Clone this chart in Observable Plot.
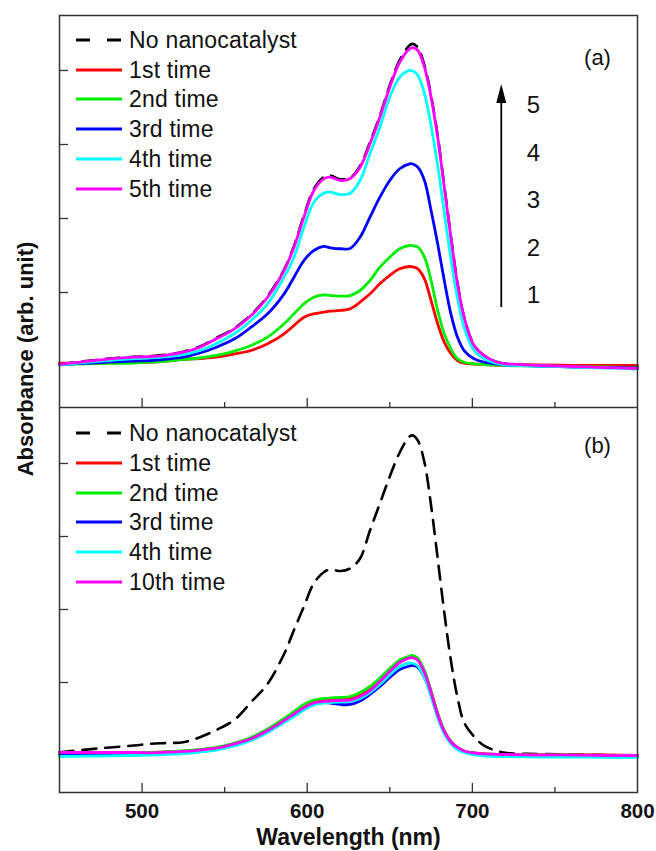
<!DOCTYPE html>
<html><head><meta charset="utf-8">
<script src="https://cdn.jsdelivr.net/npm/d3@7"></script>
<script src="https://cdn.jsdelivr.net/npm/@observablehq/plot@0.6"></script>
<style>
body{margin:0;background:#fff;}
#chart{position:relative;width:656px;height:851px;font-family:"Liberation Sans",Arial,sans-serif;overflow:hidden;}
#chart svg.plotsvg{position:absolute;left:0;}
.lg{position:absolute;font-size:23px;letter-spacing:0.2px;line-height:1;white-space:nowrap;color:#111;}
</style></head><body><div id="chart"></div>
<script>
// ---------- data ----------
const wavelength = [450,475,495,505,515,525,535,545,556,566,576,586,592,598,604,610,614,620,626,632,638,644,650,656,662,664,667,671,675,679,683,687,691,695,701,707,715,721,740,760,780,800];

// panel (a)
const noCatA = [0.03,0.095,0.13,0.14,0.16,0.2,0.27,0.385,0.52,0.70,0.95,1.31,1.63,2.04,2.40,2.56,2.58,2.53,2.55,2.71,3.03,3.39,3.80,4.14,4.34,4.36,4.31,4.07,3.66,3.12,2.44,1.76,1.13,0.67,0.29,0.15,0.06,0.035,0.015,0.005,-0.005,-0.015];
const time1A = [0.045,0.047,0.054,0.058,0.074,0.095,0.108,0.126,0.169,0.216,0.307,0.442,0.554,0.666,0.712,0.734,0.747,0.757,0.78,0.869,0.982,1.118,1.23,1.32,1.351,1.345,1.32,1.185,0.892,0.577,0.328,0.172,0.081,0.045,0.034,0.027,0.02,0.02,0.02,0.016,0.014,0.014];
const time2A = [0.027,0.041,0.047,0.058,0.074,0.095,0.115,0.149,0.209,0.284,0.396,0.577,0.712,0.847,0.936,0.969,0.959,0.95,0.959,1.027,1.162,1.342,1.477,1.591,1.635,1.631,1.612,1.477,1.162,0.757,0.442,0.239,0.104,0.058,0.036,0.027,0.02,0.014,0.007,0,-0.007,-0.014];
const time3A = [0.027,0.054,0.074,0.081,0.101,0.126,0.182,0.261,0.374,0.531,0.712,0.982,1.207,1.432,1.568,1.622,1.604,1.591,1.595,1.747,2.018,2.288,2.514,2.672,2.739,2.736,2.693,2.514,2.108,1.658,1.162,0.712,0.396,0.216,0.104,0.058,0.034,0.02,0.007,-0.007,-0.014,-0.02];
const time4A = [0.02,0.074,0.108,0.118,0.135,0.162,0.216,0.311,0.446,0.622,0.847,1.207,1.477,1.882,2.22,2.342,2.355,2.324,2.342,2.514,2.874,3.234,3.639,3.909,4.0,3.993,3.932,3.689,3.257,2.716,2.081,1.459,0.919,0.527,0.216,0.108,0.041,0.02,0.007,-0.007,-0.02,-0.034];
const time5A = [0.027,0.09,0.126,0.135,0.155,0.193,0.261,0.374,0.509,0.689,0.936,1.297,1.612,2.018,2.378,2.536,2.558,2.514,2.541,2.693,3.009,3.369,3.774,4.112,4.293,4.31,4.27,4.045,3.639,3.099,2.423,1.747,1.118,0.666,0.284,0.149,0.058,0.036,0.014,0.0,-0.014,-0.027];

// panel (b)
const noCatB = [0.045,0.1,0.137,0.16,0.171,0.182,0.25,0.35,0.49,0.73,0.98,1.39,1.72,2.04,2.36,2.51,2.548,2.527,2.562,2.699,3.082,3.452,3.822,4.151,4.37,4.384,4.315,4.014,3.425,2.699,1.959,1.301,0.795,0.452,0.26,0.137,0.062,0.034,0.021,0.014,0.007,0];
const time1B = [0.034,0.034,0.034,0.041,0.048,0.058,0.075,0.103,0.164,0.233,0.349,0.486,0.578,0.671,0.733,0.753,0.76,0.767,0.774,0.822,0.904,1.027,1.164,1.288,1.349,1.352,1.315,1.151,0.877,0.575,0.336,0.192,0.11,0.062,0.034,0.021,0.014,0.014,0.007,0.007,0.007,0];
const time2B = [0.027,0.027,0.034,0.041,0.048,0.062,0.082,0.11,0.171,0.247,0.363,0.507,0.603,0.699,0.76,0.781,0.788,0.795,0.808,0.863,0.945,1.062,1.192,1.308,1.363,1.37,1.329,1.164,0.877,0.575,0.336,0.185,0.103,0.062,0.034,0.021,0.014,0.014,0.007,0.007,0,0];
const time3B = [0,0.007,0.014,0.021,0.027,0.041,0.062,0.089,0.144,0.219,0.329,0.466,0.555,0.644,0.705,0.726,0.719,0.699,0.699,0.747,0.836,0.945,1.068,1.178,1.226,1.233,1.205,1.068,0.822,0.534,0.315,0.171,0.089,0.048,0.021,0.007,0,0,-0.007,-0.007,-0.014,-0.014];
const time4B = [-0.014,-0.007,0,0.007,0.014,0.027,0.048,0.075,0.13,0.205,0.315,0.452,0.534,0.623,0.692,0.719,0.726,0.733,0.74,0.781,0.863,0.973,1.103,1.219,1.267,1.264,1.226,1.068,0.808,0.521,0.301,0.164,0.082,0.041,0.007,-0.007,-0.014,-0.014,-0.021,-0.021,-0.027,-0.027];
const time10B = [0.041,0.041,0.041,0.037,0.045,0.055,0.075,0.1,0.16,0.229,0.342,0.479,0.568,0.658,0.719,0.74,0.747,0.753,0.76,0.808,0.89,1.014,1.151,1.274,1.336,1.338,1.301,1.137,0.863,0.562,0.329,0.185,0.11,0.062,0.034,0.021,0.014,0.014,0.007,0.007,0,0];

const namesA = ["No nanocatalyst","1st time","2nd time","3rd time","4th time","5th time"];
const namesB = ["No nanocatalyst","1st time","2nd time","3rd time","4th time","10th time"];
const colors = ["#000000","#ff0000","#00ee00","#0000ff","#00ffff","#ff00ff"];
const yTicks = [1,2,3,4];
const xMajor = [500,600,700];
const xMinor = [550,650,750];
const xLabels = [500,600,700,800];
const cycleLabels = ["5","4","3","2","1"];
const cycleLabelY = [3.527,2.885,2.243,1.601,0.959];
const arrowAnn = {x: 717.5, y1: 0.797, y2: 3.56, labelX: 737};

// ---------- helpers ----------
const FONT = "'Liberation Sans', Arial, sans-serif";
function rows(vals){ return wavelength.map((w,i)=>({w, v: vals[i]})); }
function lineMarks(seriesVals){
  return seriesVals.map((vals,i)=>Plot.line(rows(vals), {
    x:"w", y:"v", stroke: colors[i], strokeWidth: i===0 ? 2.6 : 2.8,
    strokeDasharray: i===0 ? "14,9" : null, curve:"catmull-rom"
  }));
}
function tickMarks(){
  return [
    Plot.axisY({ticks: yTicks, tickSize: -9, tickFormat: () => "", label: null, stroke:"#333", strokeWidth:1.3}),
    Plot.axisX({ticks: xMajor, tickSize: -9, tickFormat: () => "", label: null, stroke:"#333", strokeWidth:1.3}),
    Plot.axisX({ticks: xMinor, tickSize: -5, tickFormat: () => "", label: null, stroke:"#333", strokeWidth:1.3})
  ];
}

const chart = document.getElementById("chart");

// ---------- bottom panel (b) ----------
const plotB = Plot.plot({
  width: 656, height: 445,
  marginLeft: 59, marginRight: 19, marginTop: 1, marginBottom: 59,
  style: {fontFamily: FONT, background: "white"},
  x: {domain: [450, 800]},
  y: {domain: [-0.507, 4.767]},
  marks: [
    ...lineMarks([noCatB, time1B, time2B, time3B, time4B, time10B]),
    ...tickMarks(),
    Plot.axisX({ticks: xLabels, tickSize: 0, tickPadding: 11, label: null, fontSize: 20.5, fontWeight: "bold", fill:"#111"}),
    Plot.text(["Wavelength (nm)"], {text: d => d, frameAnchor: "bottom", dy: 45, fontSize: 23, fontWeight: "bold", lineAnchor: "middle", fill:"#111"}),
    Plot.text(["(b)"], {text: d => d, frameAnchor: "top-right", dx: -40, dy: 38, fontSize: 22, textAnchor: "middle", lineAnchor: "middle", fill:"#111"}),
    Plot.frame({stroke: "#333", strokeWidth: 1.5})
  ]
});
plotB.classList.add("plotsvg");
plotB.style.top = "406px";
chart.appendChild(plotB);

// ---------- top panel (a) ----------
const plotA = Plot.plot({
  width: 656, height: 408,
  marginLeft: 59, marginRight: 19, marginTop: 15, marginBottom: 1,
  style: {fontFamily: FONT, background: "white"},
  x: {domain: [450, 800]},
  y: {domain: [-0.554, 4.743]},
  marks: [
    ...lineMarks([noCatA, time1A, time2A, time3A, time4A, time5A]),
    ...tickMarks(),
    Plot.ruleX([arrowAnn], {x: "x", y1: "y1", y2: "y2", stroke: "#000", strokeWidth: 1.8}),
    Plot.vector([arrowAnn], {x: "x", y: "y2", length: 19, r: 5, rotate: 0, anchor: "start", shape: "spike", fill: "#000", stroke: "none"}),
    Plot.text(cycleLabels, {text: d => d, x: () => arrowAnn.labelX, y: (d,i) => cycleLabelY[i], fontSize: 24, textAnchor: "middle", lineAnchor: "middle", fill:"#111"}),
    Plot.text(["(a)"], {text: d => d, frameAnchor: "top-right", dx: -40, dy: 42, fontSize: 22, textAnchor: "middle", lineAnchor: "middle", fill:"#111"}),
    Plot.frame({stroke: "#333", strokeWidth: 1.5})
  ]
});
plotA.classList.add("plotsvg");
plotA.style.top = "0px";
chart.appendChild(plotA);

// ---------- legends ----------
function legend(names, top){
  names.forEach((name, i) => {
    const yc = top + i * 29.7;
    const ns = "http://www.w3.org/2000/svg";
    const s = document.createElementNS(ns, "svg");
    s.setAttribute("width", 48); s.setAttribute("height", 8);
    s.style.position = "absolute"; s.style.left = "76px"; s.style.top = (yc - 4) + "px";
    const l = document.createElementNS(ns, "line");
    l.setAttribute("x1", 0); l.setAttribute("x2", 46); l.setAttribute("y1", 4); l.setAttribute("y2", 4);
    l.setAttribute("stroke", colors[i]); l.setAttribute("stroke-width", 2.8);
    if (i === 0) l.setAttribute("stroke-dasharray", "14,17");
    s.appendChild(l);
    chart.appendChild(s);
    const t = document.createElement("div");
    t.className = "lg"; t.textContent = name;
    t.style.left = "129px"; t.style.top = yc + "px"; t.style.transform = "translateY(-50%)";
    chart.appendChild(t);
  });
}
legend(namesA, 40);
legend(namesB, 433.3);

// ---------- y axis title ----------
const yl = document.createElement("div");
yl.textContent = "Absorbance (arb. unit)";
yl.style.cssText = "position:absolute;left:26px;top:359px;transform:translate(-50%,-50%) rotate(-90deg);font-size:22px;font-weight:bold;white-space:nowrap;line-height:1;color:#111;";
chart.appendChild(yl);
</script></body></html>
